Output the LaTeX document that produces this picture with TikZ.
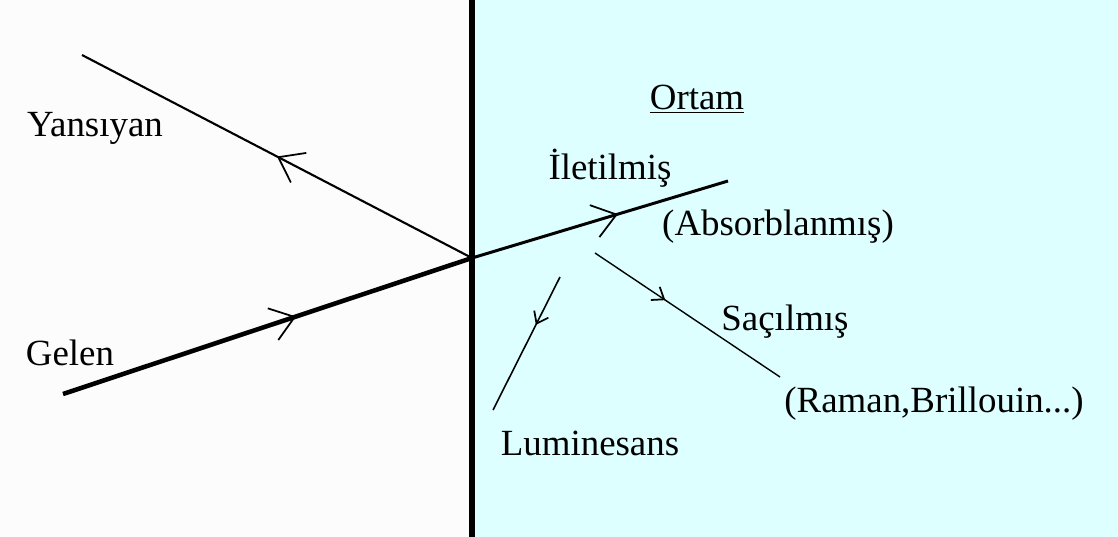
\documentclass[tikz,border=0pt]{standalone}
\usepackage{fontspec}
\setmainfont{Liberation Serif}
\usepackage{xcolor}
\usetikzlibrary{arrows.meta,decorations.markings}
\definecolor{ortamcyan}{RGB}{221,255,255}

\begin{document}
\begin{tikzpicture}[x=0.02cm,y=-0.02cm,
  lbl/.style={font=\fontsize{21}{25}\selectfont,inner sep=0pt},
  mid/.style 2 args={postaction={decorate},decoration={markings,
      mark=at position #1 with {\arrow[line width=1pt]{#2}}}},
  bigbarb/.style={mid={#1}{Straight Barb[length=13pt,width=19pt]}},
  smallbarb/.style={mid={#1}{Straight Barb[length=6pt,width=9pt]}}]
  \useasboundingbox (0,0) rectangle (1118,537);
  \fill[white!99!black] (0,0) rectangle (472,537);
  \fill[ortamcyan] (472,0) rectangle (1118,537);
  % points on the rays
  \coordinate (o) at (472,258);
  \coordinate (top) at (472,0);
  \coordinate (bot) at (472,537);
  \coordinate (ys) at (82,55);
  \coordinate (gl) at (63,394);
  \coordinate (il) at (728,181);
  \coordinate (sc1) at (595,253);
  \coordinate (sc2) at (780,377);
  \coordinate (lu1) at (560,277);
  \coordinate (lu2) at (493,410);
  % interface
  \draw[line width=3.4pt] (top)--(bot);
  % rays
  \draw[line width=1.2pt,bigbarb=0.5] (o)--(ys);
  \draw[line width=2.6pt,bigbarb=0.57] (gl)--(o);
  \draw[line width=1.7pt,bigbarb=0.57] (o)--(il);
  \draw[line width=0.8pt,smallbarb=0.38] (sc1)--(sc2);
  \draw[line width=0.9pt,smallbarb=0.36] (lu1)--(lu2);
  % labels
  \node[lbl] (yansiyan) at (95,128) {Yansıyan};
  \node[lbl] (gelen) at (70,353) {Gelen};
  \node[lbl] (ortam) at (697,99) {\underline{Ortam}};
  \node[lbl] (iletilmis) at (610,168) {İletilmiş};
  \node[lbl] (absorb) at (778,227) {(Absorblanmış)};
  \node[lbl] (sacilmis) at (785,322) {Saçılmış};
  \node[lbl] (raman) at (934,404) {(Raman,Brillouin...)};
  \node[lbl] (lumin) at (590,443) {Luminesans};
\end{tikzpicture}
\end{document}
